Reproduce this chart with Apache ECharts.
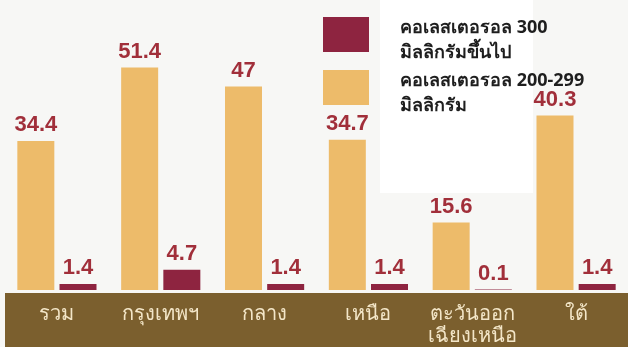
<!DOCTYPE html>
<html>
<head>
<meta charset="utf-8">
<script src="https://cdn.jsdelivr.net/npm/echarts@6/dist/echarts.min.js"></script>
<style>
  html, body { margin: 0; padding: 0; background: #f7f7f5; }
  #chart { width: 628px; height: 347px; }
</style>
</head>
<body>
<div id="chart"></div>
<script>
// Regions of Thailand
const categories = ['รวม', 'กรุงเทพฯ', 'กลาง', 'เหนือ', 'ตะวันออก\nเฉียงเหนือ', 'ใต้'];
// Share of people by cholesterol level (%)
const chol200to299 = [34.4, 51.4, 47, 34.7, 15.6, 40.3];
const chol300plus = [1.4, 4.7, 1.4, 1.4, 0.1, 1.4];
const seriesNames = ['คอเลสเตอรอล 200-299\nมิลลิกรัม', 'คอเลสเตอรอล 300\nมิลลิกรัมขึ้นไป'];

const chart = echarts.init(document.getElementById('chart'), null, { renderer: 'canvas' });

const valueLabel = {
  show: true,
  position: 'top',
  distance: 5,
  color: '#a12f3a',
  fontFamily: 'Liberation Sans, Arial, sans-serif',
  fontWeight: 'bold',
  fontSize: 22
};

const legendFont = {
  color: '#1e1e1e',
  fontSize: 18,
  fontWeight: 'bold',
  fontFamily: 'Noto Sans, DejaVu Sans, sans-serif'
};

chart.setOption({
  backgroundColor: '#f7f7f5',
  animation: false,
  graphic: [
    { type: 'rect', z: -10, shape: { x: 380, y: 0, width: 153, height: 193 }, style: { fill: '#ffffff' } },
    { type: 'rect', z: -10, shape: { x: 5, y: 293, width: 623, height: 54 }, style: { fill: '#7b5f2e' } }
  ],
  grid: { left: 5, right: -1, top: 0, bottom: 54 },
  legend: {
    orient: 'vertical',
    left: 323,
    top: 6.5,
    padding: 0,
    itemWidth: 46,
    itemHeight: 35,
    itemGap: -2.5,
    icon: 'rect',
    data: [seriesNames[1], seriesNames[0]],
    // a thin spacer line nudges the two text lines slightly below the swatch centre
    formatter: name => '{s| }\n' + name.split('\n').map(line => '{t|' + line + '}').join('\n'),
    textStyle: Object.assign({
      padding: [0, 0, 0, 26],
      rich: {
        s: { lineHeight: 12, fontSize: 6 },
        t: Object.assign({ lineHeight: 25 }, legendFont)
      }
    }, legendFont)
  },
  xAxis: {
    type: 'category',
    data: categories,
    axisLine: { show: false },
    axisTick: { show: false },
    axisLabel: {
      interval: 0,
      color: '#f3e6c8',
      fontSize: 20,
      lineHeight: 22,
      margin: 13,
      fontFamily: 'Noto Serif, DejaVu Serif, serif'
    }
  },
  yAxis: { type: 'value', min: 0, max: 67, show: false, splitLine: { show: false } },
  series: [
    {
      name: seriesNames[0],
      type: 'bar',
      data: chol200to299,
      barWidth: 37,
      barGap: '14%',
      itemStyle: { color: '#edbb6a' },
      label: valueLabel
    },
    {
      name: seriesNames[1],
      type: 'bar',
      data: chol300plus,
      barWidth: 37,
      barGap: '14%',
      itemStyle: { color: '#8e2440' },
      label: valueLabel
    }
  ]
});
</script>
</body>
</html>
